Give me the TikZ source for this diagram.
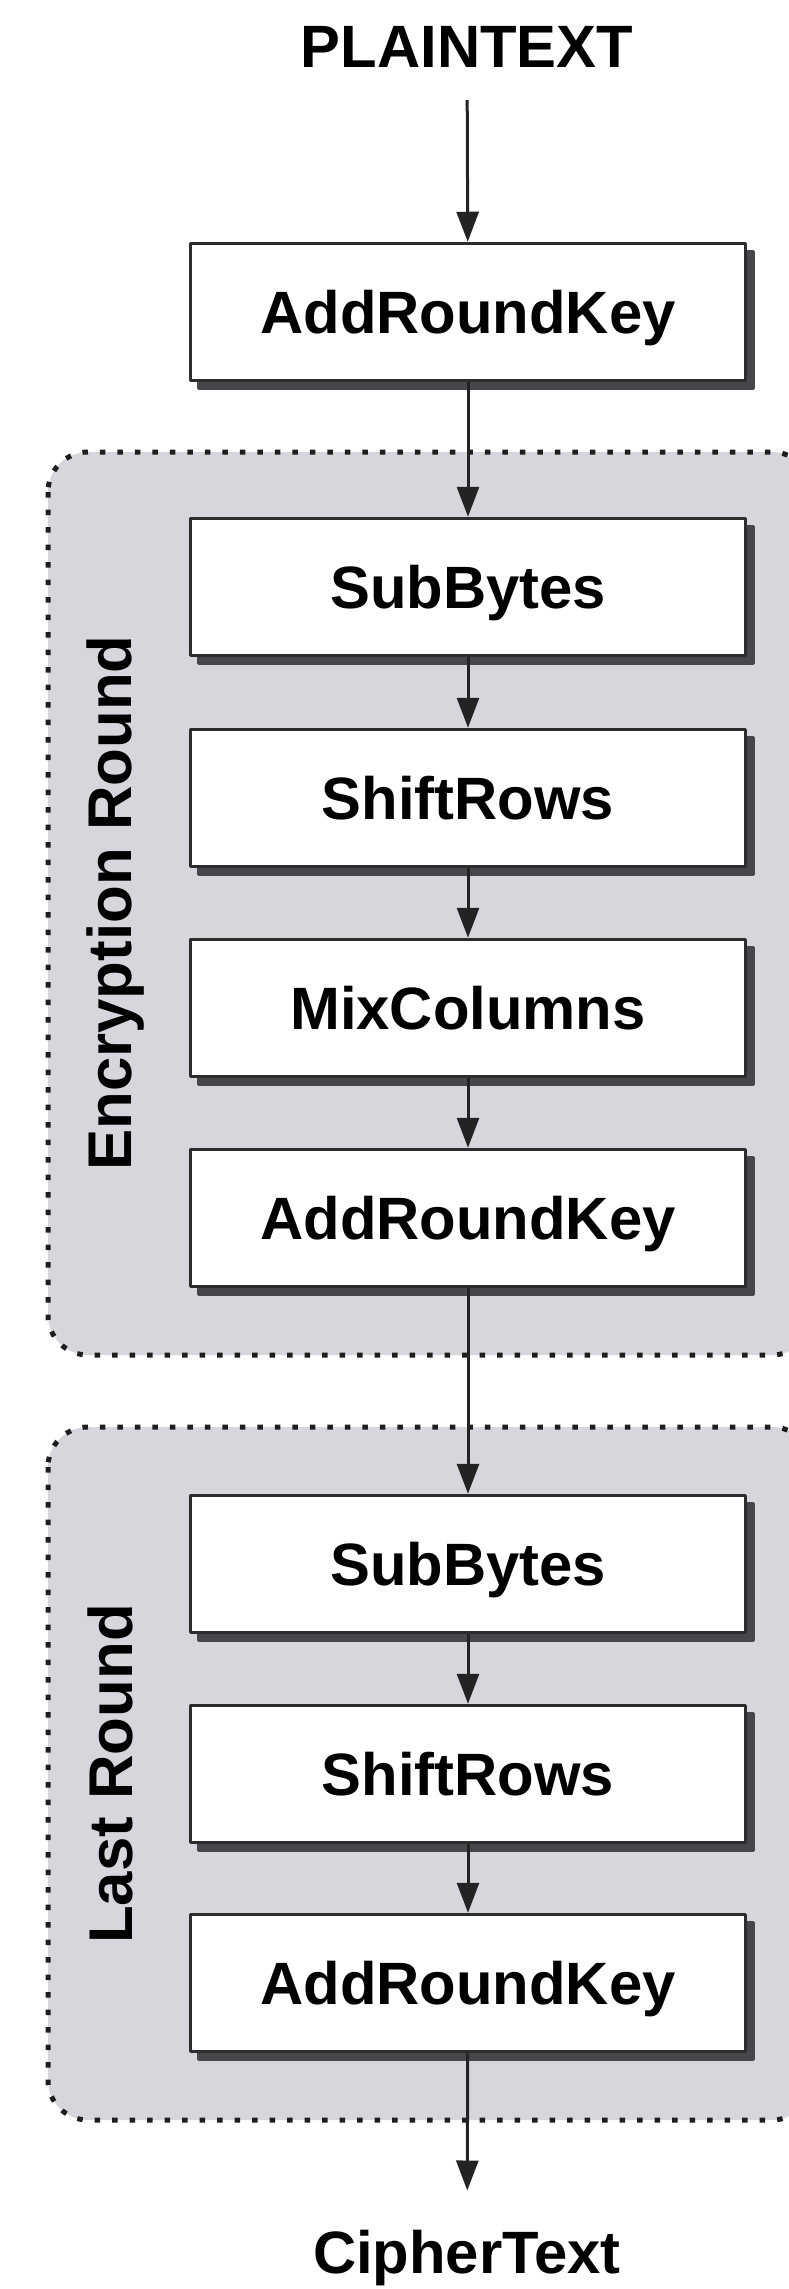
\documentclass[tikz,border=0pt]{standalone}
\usepackage{fontspec}
\setmainfont{Liberation Sans}
\usetikzlibrary{arrows.meta,shadows}
\definecolor{roundgray}{RGB}{213,215,220}
\definecolor{dotline}{RGB}{30,30,30}
\definecolor{boxline}{RGB}{45,45,45}
\definecolor{boxshadow}{RGB}{70,70,75}
\definecolor{flowline}{RGB}{35,35,35}
\tikzset{
  stagebox/.style={draw=boxline,line width=3.5bp,fill=white,
    minimum width=555bp,minimum height=137bp,inner sep=0pt,
    text height=43bp,text depth=0pt,font=\fontsize{60}{72}\selectfont\bfseries,
    copy shadow={shadow xshift=8bp,shadow yshift=-8bp,fill=boxshadow,draw=boxshadow}},
  roundbox/.style={draw=dotline,fill=roundgray,line width=5bp,
    dash pattern=on 5.5bp off 12bp,rounded corners=40bp},
  roundlabel/.style={rotate=90,anchor=base,inner sep=0pt,font=\fontsize{62}{74}\selectfont\bfseries},
  endtext/.style={anchor=base,inner sep=0pt,font=\fontsize{60}{72}\selectfont\bfseries},
}
\begin{document}
\begin{tikzpicture}[>={Triangle[length=30bp,width=22bp]},line join=bevel]
\useasboundingbox (0bp,0bp) rectangle (789bp,-2289bp);
\clip (0bp,0bp) rectangle (789bp,-2289bp);
\fill [white] (0bp,0bp) rectangle (789bp,-2289bp);
%% rounds
\draw [roundbox] (48bp,-452bp) rectangle (812bp,-1355bp);
\draw [roundbox] (48bp,-1427bp) rectangle (812bp,-2120bp);
\node (enc_label) at (131bp,-903bp) [roundlabel] {Encryption Round};
\node (last_label) at (132bp,-1774bp) [roundlabel] {Last Round};
%% stages
\node (plain_text) at (467bp,-67bp) [endtext] {PLAINTEXT};
  \node (ark_0) at (468bp,-312bp) [stagebox] {AddRoundKey};
  \node (sub_1) at (468bp,-587bp) [stagebox] {SubBytes};
  \node (shift_1) at (468bp,-798bp) [stagebox] {ShiftRows};
  \node (mix_1) at (468bp,-1008bp) [stagebox] {MixColumns};
  \node (ark_1) at (468bp,-1218bp) [stagebox] {AddRoundKey};
  \node (sub_2) at (468bp,-1564bp) [stagebox] {SubBytes};
  \node (shift_2) at (468bp,-1774bp) [stagebox] {ShiftRows};
  \node (ark_2) at (468bp,-1983bp) [stagebox] {AddRoundKey};
\node (cipher_text) at (467bp,-2273bp) [endtext] {CipherText};
%
\draw [flowline,line width=3bp,->,shorten <=33bp] (plain_text) -- (ark_0);
  \draw [flowline,line width=3bp,->] (ark_0) -- (sub_1);
  \draw [flowline,line width=3bp,->] (sub_1) -- (shift_1);
  \draw [flowline,line width=3bp,->] (shift_1) -- (mix_1);
  \draw [flowline,line width=3bp,->] (mix_1) -- (ark_1);
  \draw [flowline,line width=3bp,->] (ark_1) -- (sub_2);
  \draw [flowline,line width=3bp,->] (sub_2) -- (shift_2);
  \draw [flowline,line width=3bp,->] (shift_2) -- (ark_2);
  \draw [flowline,line width=3bp,->,shorten >=39bp] (ark_2) -- (cipher_text);
%
\end{tikzpicture}
\end{document}
